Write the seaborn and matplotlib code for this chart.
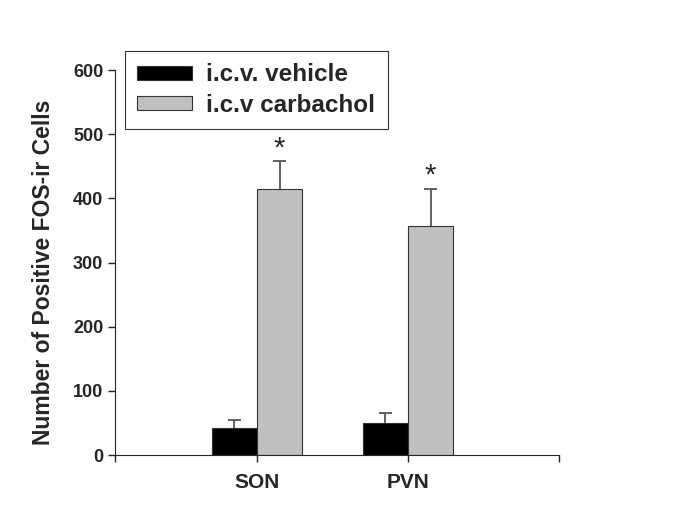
import pandas as pd
import matplotlib
matplotlib.use('Agg')
import matplotlib.pyplot as plt
import seaborn as sns

regions = ['SON', 'PVN']
groups = ['i.c.v. vehicle', 'i.c.v carbachol']
vehicle = [42, 50]
vehicle_err = [13, 15]
carbachol = [415, 357]
carbachol_err = [43, 58]

data = pd.DataFrame({
    'Region': regions * 2,
    'Group': [groups[0]] * 2 + [groups[1]] * 2,
    'Cells': vehicle + carbachol,
})
errs = vehicle_err + carbachol_err

sns.set_style('ticks')
plt.rcParams['font.family'] = ['Liberation Sans', 'DejaVu Sans']
plt.rcParams['font.weight'] = 'bold'

fig = plt.figure(figsize=(6.85, 5.2), dpi=100)
ax = fig.add_axes([0.168, 0.125, 0.648, 0.74])

sns.barplot(data=data, x='Region', y='Cells', hue='Group',
            palette=['black', '#c0c0c0'], width=0.6, ax=ax,
            edgecolor='#333333', linewidth=0.8, errorbar=None)

# upper error bars only, with stars over carbachol
bars = ax.patches[:4]
cap = 0.045
for i, bar in enumerate(bars):
    xc = bar.get_x() + bar.get_width() / 2
    h = bar.get_height()
    top = h + errs[i]
    ax.vlines(xc, h, top, color='#555555', lw=1.3, zorder=1)
    ax.hlines(top, xc - cap, xc + cap, color='#555555', lw=1.3, zorder=1)
    if i >= 2:
        ax.text(xc, top + 20, '*', ha='center', va='center',
                fontsize=21, fontweight='normal')

ax.set_ylim(0, 600)
ax.set_xlim(-0.94, 2.0)
ax.set_yticks(range(0, 601, 100))
ax.set_xticks([-0.94, 0, 1, 2.0])
ax.set_xticklabels(['', 'SON', 'PVN', ''], fontsize=15, fontweight='bold')
ax.tick_params(axis='x', length=5, width=1, pad=8)
ax.tick_params(axis='y', length=5, width=1, labelsize=13)
for lab in ax.get_yticklabels():
    lab.set_fontweight('bold')
ax.set_xlabel('')
ax.set_ylabel('Number of Positive FOS-ir Cells', fontsize=16.5, fontweight='bold')
ax.yaxis.set_label_coords(-0.135, 0.475)
sns.despine(ax=ax)

leg = ax.legend(loc='upper left', bbox_to_anchor=(0.0225, 1.049), frameon=True,
                fancybox=False, edgecolor='black', fontsize=17.5,
                handlelength=2.25, handleheight=0.5, borderpad=0.5,
                labelspacing=0.3, handletextpad=0.6, borderaxespad=0,
                title=None)
leg.get_frame().set_linewidth(0.8)
for t in leg.get_texts():
    t.set_fontweight('bold')

fig.savefig('out.png', dpi=100)
